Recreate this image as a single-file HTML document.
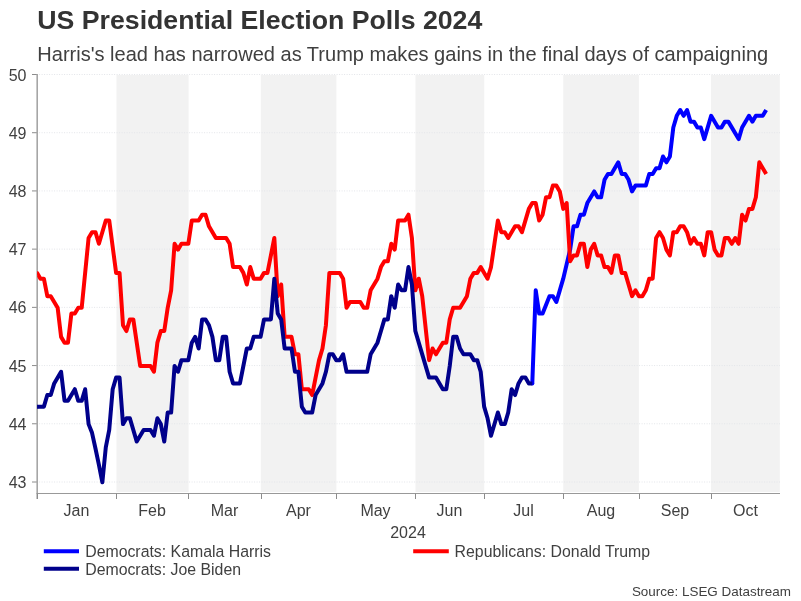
<!DOCTYPE html>
<html><head><meta charset="utf-8"><title>US Presidential Election Polls 2024</title>
<style>
html,body{margin:0;padding:0;background:#fff;}
body{width:801px;height:601px;overflow:hidden;font-family:"Liberation Sans",Arial,sans-serif;}
svg{display:block}
text{font-family:"Liberation Sans",Arial,sans-serif;}
.tick{font-size:16px;fill:#404040;}
.leg{font-size:15.85px;fill:#404040;}
</style></head><body>
<svg width="801" height="601" viewBox="0 0 801 601">
<defs><clipPath id="cp"><rect x="37.2" y="70" width="745" height="424"/></clipPath></defs>
<rect width="801" height="601" fill="#fff"/>
<text x="37.3" y="29" font-size="26.7" font-weight="bold" fill="#333">US Presidential Election Polls 2024</text>
<text x="37.3" y="60.7" font-size="20.05" fill="#404040">Harris's lead has narrowed as Trump makes gains in the final days of campaigning</text>
<rect x="116.45" y="75" width="72.18" height="417" fill="#f2f2f2"/>
<rect x="260.81" y="75" width="75.61" height="417" fill="#f2f2f2"/>
<rect x="415.47" y="75" width="68.74" height="417" fill="#f2f2f2"/>
<rect x="563.26" y="75" width="75.61" height="417" fill="#f2f2f2"/>
<rect x="711.05" y="75" width="68.74" height="417" fill="#f2f2f2"/>
<line x1="38.5" x2="780" y1="482.00" y2="482.00" stroke="#e3e5e9" stroke-width="1" stroke-dasharray="1 1.5" stroke-dashoffset="-0.6"/>
<line x1="32" x2="37.5" y1="482.00" y2="482.00" stroke="#8c8c8c" stroke-width="1"/>
<text x="26.5" y="488.10" text-anchor="end" class="tick">43</text>
<line x1="38.5" x2="780" y1="423.78" y2="423.78" stroke="#e3e5e9" stroke-width="1" stroke-dasharray="1 1.5" stroke-dashoffset="-0.6"/>
<line x1="32" x2="37.5" y1="423.78" y2="423.78" stroke="#8c8c8c" stroke-width="1"/>
<text x="26.5" y="429.88" text-anchor="end" class="tick">44</text>
<line x1="38.5" x2="780" y1="365.57" y2="365.57" stroke="#e3e5e9" stroke-width="1" stroke-dasharray="1 1.5" stroke-dashoffset="-0.6"/>
<line x1="32" x2="37.5" y1="365.57" y2="365.57" stroke="#8c8c8c" stroke-width="1"/>
<text x="26.5" y="371.67" text-anchor="end" class="tick">45</text>
<line x1="38.5" x2="780" y1="307.36" y2="307.36" stroke="#e3e5e9" stroke-width="1" stroke-dasharray="1 1.5" stroke-dashoffset="-0.6"/>
<line x1="32" x2="37.5" y1="307.36" y2="307.36" stroke="#8c8c8c" stroke-width="1"/>
<text x="26.5" y="313.46" text-anchor="end" class="tick">46</text>
<line x1="38.5" x2="780" y1="249.14" y2="249.14" stroke="#e3e5e9" stroke-width="1" stroke-dasharray="1 1.5" stroke-dashoffset="-0.6"/>
<line x1="32" x2="37.5" y1="249.14" y2="249.14" stroke="#8c8c8c" stroke-width="1"/>
<text x="26.5" y="255.24" text-anchor="end" class="tick">47</text>
<line x1="38.5" x2="780" y1="190.93" y2="190.93" stroke="#e3e5e9" stroke-width="1" stroke-dasharray="1 1.5" stroke-dashoffset="-0.6"/>
<line x1="32" x2="37.5" y1="190.93" y2="190.93" stroke="#8c8c8c" stroke-width="1"/>
<text x="26.5" y="197.03" text-anchor="end" class="tick">48</text>
<line x1="38.5" x2="780" y1="132.71" y2="132.71" stroke="#e3e5e9" stroke-width="1" stroke-dasharray="1 1.5" stroke-dashoffset="-0.6"/>
<line x1="32" x2="37.5" y1="132.71" y2="132.71" stroke="#8c8c8c" stroke-width="1"/>
<text x="26.5" y="138.81" text-anchor="end" class="tick">49</text>
<line x1="38.5" x2="780" y1="74.50" y2="74.50" stroke="#e3e5e9" stroke-width="1" stroke-dasharray="1 1.5" stroke-dashoffset="-0.6"/>
<line x1="32" x2="37.5" y1="74.50" y2="74.50" stroke="#8c8c8c" stroke-width="1"/>
<text x="26.5" y="80.60" text-anchor="end" class="tick">50</text>

<line x1="37.2" x2="37.2" y1="74" y2="499" stroke="#a6a6a6" stroke-width="1.6"/>
<line x1="36.5" x2="780" y1="493.5" y2="493.5" stroke="#999" stroke-width="1.2"/>
<line x1="37.5" x2="37.5" y1="493.5" y2="499" stroke="#8c8c8c" stroke-width="1"/>
<text x="76.5" y="515.8" text-anchor="middle" class="tick">Jan</text>
<line x1="116.5" x2="116.5" y1="493.5" y2="499" stroke="#8c8c8c" stroke-width="1"/>
<text x="152.0" y="515.8" text-anchor="middle" class="tick">Feb</text>
<line x1="188.5" x2="188.5" y1="493.5" y2="499" stroke="#8c8c8c" stroke-width="1"/>
<text x="224.5" y="515.8" text-anchor="middle" class="tick">Mar</text>
<line x1="261.5" x2="261.5" y1="493.5" y2="499" stroke="#8c8c8c" stroke-width="1"/>
<text x="298.5" y="515.8" text-anchor="middle" class="tick">Apr</text>
<line x1="336.5" x2="336.5" y1="493.5" y2="499" stroke="#8c8c8c" stroke-width="1"/>
<text x="375.5" y="515.8" text-anchor="middle" class="tick">May</text>
<line x1="415.5" x2="415.5" y1="493.5" y2="499" stroke="#8c8c8c" stroke-width="1"/>
<text x="449.5" y="515.8" text-anchor="middle" class="tick">Jun</text>
<line x1="484.5" x2="484.5" y1="493.5" y2="499" stroke="#8c8c8c" stroke-width="1"/>
<text x="523.5" y="515.8" text-anchor="middle" class="tick">Jul</text>
<line x1="563.5" x2="563.5" y1="493.5" y2="499" stroke="#8c8c8c" stroke-width="1"/>
<text x="601.0" y="515.8" text-anchor="middle" class="tick">Aug</text>
<line x1="639.5" x2="639.5" y1="493.5" y2="499" stroke="#8c8c8c" stroke-width="1"/>
<text x="675.0" y="515.8" text-anchor="middle" class="tick">Sep</text>
<line x1="711.5" x2="711.5" y1="493.5" y2="499" stroke="#8c8c8c" stroke-width="1"/>
<text x="745.5" y="515.8" text-anchor="middle" class="tick">Oct</text>

<text x="408" y="538" text-anchor="middle" class="tick">2024</text>
<g clip-path="url(#cp)">
<circle cx="532.29" cy="383.40" r="2" fill="#0000ff"/>
<circle cx="37.00" cy="272.88" r="2" fill="#ff0000"/>
<circle cx="37.00" cy="406.67" r="2" fill="#00008b"/>
<polyline fill="none" stroke="#0000ff" stroke-width="4" stroke-linejoin="round" stroke-linecap="butt" points="532.29,383.40 535.73,290.33 539.17,313.60 542.61,313.60 549.49,296.15 552.92,296.15 556.36,301.96 559.80,290.33 563.24,278.69 566.68,264.15 570.12,249.61 573.56,226.34 577.00,226.34 580.44,214.71 583.88,214.71 587.32,203.07 590.76,197.26 594.20,191.44 597.64,197.26 601.08,197.26 604.52,179.81 607.96,173.99 611.40,173.99 618.28,162.35 621.71,173.99 625.15,173.99 628.59,179.81 632.03,191.44 635.47,185.62 645.79,185.62 649.23,173.99 652.67,173.99 656.11,168.17 659.55,168.17 662.99,156.54 666.43,162.35 669.87,156.54 673.31,127.45 676.75,115.82 680.19,110.00 683.63,115.82 687.07,110.00 690.50,121.64 693.94,121.64 697.38,127.45 700.82,127.45 704.26,139.09 711.14,115.82 718.02,127.45 721.46,127.45 724.90,121.64 728.34,121.64 738.66,139.09 742.10,127.45 748.98,115.82 752.42,121.64 755.86,115.82 762.73,115.82 766.17,110.00"/>
<polyline fill="none" stroke="#ff0000" stroke-width="4" stroke-linejoin="round" stroke-linecap="butt" points="37.00,272.88 40.44,278.69 43.88,278.69 47.32,296.15 50.76,296.15 57.64,307.78 61.08,336.87 64.52,342.68 67.96,342.68 71.39,313.60 74.83,313.60 78.27,307.78 81.71,307.78 88.59,237.98 92.03,232.16 95.47,232.16 98.91,243.79 105.79,220.53 109.23,220.53 116.11,272.88 119.55,272.88 122.99,325.23 126.43,331.05 129.87,319.41 133.31,319.41 140.19,365.95 150.50,365.95 153.94,371.77 157.38,342.68 160.82,331.05 164.26,331.05 167.70,307.78 171.14,290.33 174.58,243.79 178.02,249.61 181.46,243.79 188.34,243.79 191.78,220.53 198.66,220.53 202.10,214.71 205.54,214.71 208.97,226.34 215.85,237.98 226.17,237.98 229.61,243.79 233.05,267.06 239.93,267.06 243.37,272.88 246.81,284.51 250.25,267.06 253.69,278.69 260.57,278.69 264.01,272.88 267.45,272.88 274.33,237.98 277.76,296.15 281.20,284.51 284.64,336.87 291.52,336.87 294.96,354.32 298.40,354.32 301.84,389.22 308.72,389.22 312.16,395.03 319.04,360.13 322.48,348.50 325.92,325.23 329.36,272.88 339.68,272.88 343.12,278.69 346.56,307.78 349.99,301.96 360.31,301.96 363.75,307.78 367.19,307.78 370.63,290.33 377.51,278.69 380.95,267.06 384.39,261.24 387.83,261.24 391.27,243.79 394.71,249.61 398.15,220.53 405.03,220.53 408.47,214.71 411.91,237.98 415.34,290.33 418.78,278.69 422.22,296.15 429.10,360.13 432.54,348.50 435.98,354.32 442.86,342.68 446.30,342.68 449.74,319.41 453.18,307.78 460.06,307.78 466.94,296.15 470.38,278.69 473.82,272.88 477.26,272.88 480.70,267.06 487.57,278.69 491.01,267.06 494.45,243.79 497.89,220.53 501.33,232.16 504.77,232.16 508.21,237.98 515.09,226.34 518.53,226.34 521.97,232.16 528.85,208.89 532.29,203.07 535.73,203.07 539.17,220.53 542.61,214.71 546.05,197.26 549.49,197.26 552.92,185.62 556.36,185.62 559.80,191.44 563.24,208.89 566.68,203.07 570.12,261.24 573.56,255.43 577.00,255.43 580.44,243.79 583.88,243.79 587.32,267.06 590.76,249.61 594.20,243.79 597.64,255.43 601.08,255.43 604.52,267.06 607.96,267.06 611.40,272.88 614.84,255.43 618.28,255.43 621.71,272.88 625.15,272.88 632.03,296.15 635.47,290.33 638.91,296.15 642.35,296.15 645.79,290.33 649.23,278.69 652.67,278.69 656.11,237.98 659.55,232.16 662.99,237.98 666.43,249.61 669.87,255.43 673.31,232.16 676.75,232.16 680.19,226.34 683.63,226.34 687.07,232.16 690.50,243.79 693.94,237.98 697.38,243.79 700.82,243.79 704.26,255.43 707.70,232.16 711.14,232.16 714.58,249.61 718.02,255.43 721.46,255.43 724.90,237.98 728.34,237.98 731.78,243.79 735.22,237.98 738.66,243.79 742.10,214.71 745.54,220.53 748.98,208.89 752.42,208.89 755.86,197.26 759.29,162.35 766.17,173.99"/>
<polyline fill="none" stroke="#00008b" stroke-width="4" stroke-linejoin="round" stroke-linecap="butt" points="37.00,406.67 43.88,406.67 47.32,395.03 50.76,395.03 54.20,383.40 61.08,371.77 64.52,400.85 67.96,400.85 74.83,389.22 78.27,400.85 81.71,400.85 85.15,389.22 88.59,424.12 92.03,432.85 95.47,448.55 98.91,464.84 102.35,482.29 105.79,447.39 109.23,429.94 112.67,389.22 116.11,377.58 119.55,377.58 122.99,424.12 126.43,418.30 129.87,418.30 136.75,441.57 143.62,429.94 150.50,429.94 153.94,435.75 157.38,418.30 160.82,424.12 164.26,441.57 167.70,412.49 171.14,412.49 174.58,365.95 178.02,371.77 181.46,360.13 188.34,360.13 191.78,342.68 195.22,336.87 198.66,348.50 202.10,319.41 205.54,319.41 208.97,325.23 212.41,336.87 215.85,360.13 219.29,360.13 222.73,336.87 226.17,336.87 229.61,371.77 233.05,383.40 239.93,383.40 246.81,348.50 250.25,348.50 253.69,336.87 260.57,336.87 264.01,319.41 270.89,319.41 274.33,278.69 277.76,313.60 281.20,319.41 284.64,348.50 291.52,348.50 294.96,371.77 298.40,371.77 301.84,406.67 305.28,412.49 312.16,412.49 315.60,395.03 322.48,383.40 325.92,371.77 329.36,354.32 332.80,354.32 336.24,360.13 339.68,360.13 343.12,354.32 346.56,371.77 367.19,371.77 370.63,354.32 377.51,342.68 380.95,331.05 384.39,319.41 387.83,319.41 391.27,296.15 394.71,307.78 398.15,284.51 401.59,290.33 405.03,290.33 408.47,267.06 411.91,284.51 415.34,331.05 422.22,354.32 429.10,377.58 435.98,377.58 442.86,389.22 446.30,389.22 449.74,365.95 453.18,336.87 456.62,336.87 460.06,348.50 463.50,354.32 470.38,354.32 473.82,360.13 477.26,360.13 480.70,371.77 484.13,406.67 487.57,418.30 491.01,435.75 497.89,412.49 501.33,424.12 504.77,424.12 508.21,412.49 511.65,389.22 515.09,395.03 518.53,383.40 521.97,377.58 525.41,377.58 528.85,383.40 532.29,383.40"/>
</g>
<line x1="43.8" x2="79" y1="551.2" y2="551.2" stroke="#0000ff" stroke-width="4"/>
<text x="85.2" y="556.6" class="leg">Democrats: Kamala Harris</text>
<line x1="43.8" x2="79" y1="568.7" y2="568.7" stroke="#00008b" stroke-width="4"/>
<text x="85.2" y="575" class="leg">Democrats: Joe Biden</text>
<line x1="413.2" x2="448.8" y1="551.2" y2="551.2" stroke="#ff0000" stroke-width="4"/>
<text x="454.6" y="556.6" class="leg">Republicans: Donald Trump</text>
<text x="791" y="595.8" text-anchor="end" font-size="13.45" fill="#404040">Source: LSEG Datastream</text>
</svg>
</body></html>
